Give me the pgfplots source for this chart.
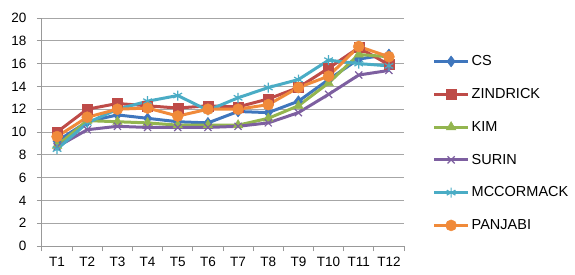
\documentclass[border=0pt]{standalone}
\usepackage{fontspec}
\setmainfont{Liberation Sans}
\usepackage{pgfplots}
\pgfplotsset{compat=1.18}
\usetikzlibrary{plotmarks}
\definecolor{cCS}{HTML}{3F76BD}
\definecolor{cZI}{HTML}{BE4B48}
\definecolor{cKI}{HTML}{93B54F}
\definecolor{cSU}{HTML}{7D5FA0}
\definecolor{cMC}{HTML}{4AACC5}
\definecolor{cPA}{HTML}{F08A3A}
\begin{document}
\begin{tikzpicture}
\begin{axis}[
  at={(0,0)}, anchor=origin,
  scale only axis, width=362pt, height=228pt,
  xmin=0.5, xmax=12.5, ymin=0, ymax=20,
  ytick={0,2,...,20},
  xtick={1,...,12},
  xticklabels={T1,T2,T3,T4,T5,T6,T7,T8,T9,T10,T11,T12},
  minor xtick={0.5,1.5,...,12.5},
  axis x line*=bottom, axis y line*=left,
  axis line style={draw=gray!80, line width=1pt, -},
  ymajorgrids, major grid style={draw=gray!70, line width=1pt},
  major x tick style={draw=none},
  minor x tick style={draw=gray!80, line width=1pt},
  major y tick style={draw=gray!80, line width=1pt},
  tick align=outside,
  major tick length=5pt, minor tick length=5pt,
  tick label style={font=\fontsize{13.5}{15}\selectfont},
  /pgf/number format/assume math mode=true,
  xticklabel style={yshift=-3pt},
  yticklabel style={xshift=-7pt},
  every axis plot/.append style={line width=3pt},
  legend style={at={(1.07,0.45)}, anchor=west, draw=none, fill=none,
    font=\fontsize{14.5}{16}\selectfont, row sep=17.2pt,
    /tikz/every even column/.append style={column sep=1pt}},
  legend cell align=left,
  legend image code/.code={\draw[mark repeat=2,mark phase=2] plot coordinates {(0cm,0cm) (0.6cm,0cm) (1.2cm,0cm)};},
]
\addplot[color=cCS, mark=diamond*, mark size=5.5pt, mark options={solid, line width=0.5pt}] coordinates {
(1,9.2) (2,10.9) (3,11.5) (4,11.2) (5,10.9) (6,10.8) (7,11.8) (8,11.7) (9,12.7) (10,14.6) (11,16.4) (12,16.8)};
\addlegendentry{CS}
\addplot[color=cZI, mark=square*, mark size=5pt, mark options={solid, line width=0.5pt}] coordinates {
(1,10.0) (2,12.0) (3,12.5) (4,12.3) (5,12.1) (6,12.3) (7,12.2) (8,12.9) (9,13.9) (10,15.6) (11,17.4) (12,15.9)};
\addlegendentry{ZINDRICK}
\addplot[color=cKI, mark=triangle*, mark size=5.5pt, mark options={solid, line width=0.5pt}] coordinates {
(1,8.8) (2,11.0) (3,10.9) (4,10.8) (5,10.6) (6,10.6) (7,10.6) (8,11.2) (9,12.3) (10,14.3) (11,16.8) (12,16.6)};
\addlegendentry{KIM}
\addplot[color=cSU, mark=x, mark size=5pt, mark options={solid, line width=1.2pt}] coordinates {
(1,8.7) (2,10.2) (3,10.5) (4,10.4) (5,10.4) (6,10.4) (7,10.5) (8,10.8) (9,11.7) (10,13.3) (11,15.0) (12,15.4)};
\addlegendentry{SURIN}
\addplot[color=cMC, mark=asterisk, mark size=5pt, mark options={solid, line width=1.2pt}] coordinates {
(1,8.5) (2,10.8) (3,12.0) (4,12.7) (5,13.2) (6,11.9) (7,13.0) (8,13.9) (9,14.6) (10,16.3) (11,16.0) (12,15.8)};
\addlegendentry{MCCORMACK}
\addplot[color=cPA, mark=*, mark size=5.5pt, mark options={solid, line width=0.5pt}] coordinates {
(1,9.6) (2,11.3) (3,12.0) (4,12.1) (5,11.4) (6,12.0) (7,12.0) (8,12.4) (9,13.9) (10,14.9) (11,17.5) (12,16.6)};
\addlegendentry{PANJABI}
\end{axis}
\path[use as bounding box] (-42pt,-28pt) rectangle (533pt,246pt);
\end{tikzpicture}
\end{document}
